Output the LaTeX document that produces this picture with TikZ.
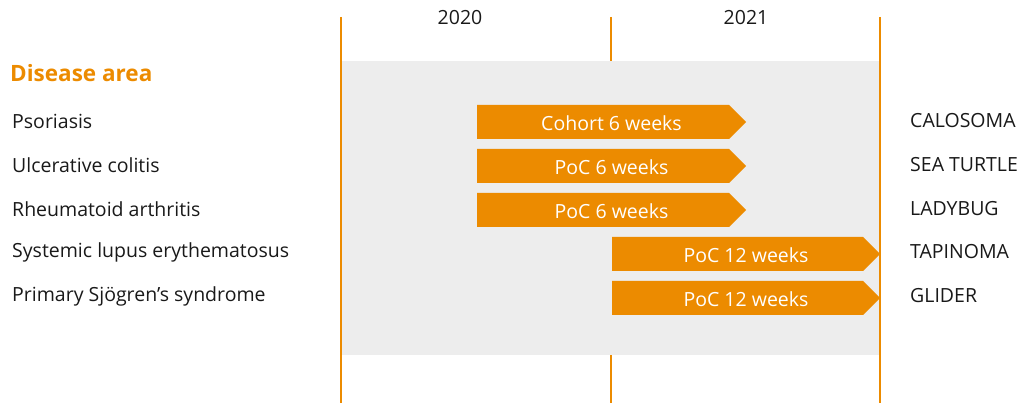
\documentclass[tikz,border=0pt]{standalone}
\usepackage{fontspec}
\setmainfont{Open Sans}
\definecolor{og}{HTML}{EC8B00}
\definecolor{bg}{HTML}{EDEDED}
\begin{document}
\begin{tikzpicture}[x=1pt,y=-1pt,
  lbl/.style={anchor=west,inner sep=0pt,font=\fontsize{19.5}{22}\selectfont,text=black!90},
  yr/.style={inner sep=0pt,font=\fontsize{19.5}{22}\selectfont,text=black!90},
  grid/.style={draw=og,line width=1.2pt},
  bar/.style={fill=og,draw=none},
  bartxt/.style={inner sep=0pt,text=white,font=\fontsize{19.5}{22}\selectfont}]
\useasboundingbox (0,0) rectangle (1020,403);
\coordinate (l1t) at (341,17); \coordinate (l1b) at (341,403);
\coordinate (l2t) at (611,17); \coordinate (l2b) at (611,403);
\coordinate (l3t) at (880,17); \coordinate (l3b) at (880,403);
\draw[grid] (l2t) -- (l2b);
\fill[bg] (341,61) rectangle (880,355);
\draw[grid] (l1t) -- (l1b);
\draw[grid] (l3t) -- (l3b);
\node[yr] (y2020) at (460,18) {2020};
\node[yr] (y2021) at (746,18) {2021};
\node[anchor=west,inner sep=0pt,text=og,font=\fontsize{22.5}{25}\selectfont\bfseries] (da) at (10,73) {Disease area};
\node[lbl] (d1) at (12,121) {Psoriasis};
\node[lbl] (d2) at (12,165) {Ulcerative colitis};
\node[lbl] (d3) at (12,209) {Rheumatoid arthritis};
\node[lbl] (d4) at (12,252) {Systemic lupus erythematosus};
\node[lbl] (d5) at (12,296) {Primary Sjögren’s syndrome};
% bars
\fill[bar] (477,105) -- (729,105) -- (746,122) -- (729,139) -- (477,139) -- cycle;
\fill[bar] (477,149) -- (729,149) -- (746,166) -- (729,183) -- (477,183) -- cycle;
\fill[bar] (477,193) -- (729,193) -- (746,210) -- (729,227) -- (477,227) -- cycle;
\fill[bar] (612,237) -- (863,237) -- (880,254) -- (863,271) -- (612,271) -- cycle;
\fill[bar] (612,281) -- (863,281) -- (880,298) -- (863,315) -- (612,315) -- cycle;
\node[bartxt] (b1) at (611.5,123) {Cohort 6 weeks};
\node[bartxt] (b2) at (611.5,167) {PoC 6 weeks};
\node[bartxt] (b3) at (611.5,211) {PoC 6 weeks};
\node[bartxt] (b4) at (746,255) {PoC 12 weeks};
\node[bartxt] (b5) at (746,299) {PoC 12 weeks};
\node[lbl] (r1) at (910,121) {CALOSOMA};
\node[lbl] (r2) at (910,165) {SEA TURTLE};
\node[lbl] (r3) at (910,209) {LADYBUG};
\node[lbl] (r4) at (910,252) {TAPINOMA};
\node[lbl] (r5) at (910,296) {GLIDER};
\end{tikzpicture}
\end{document}
